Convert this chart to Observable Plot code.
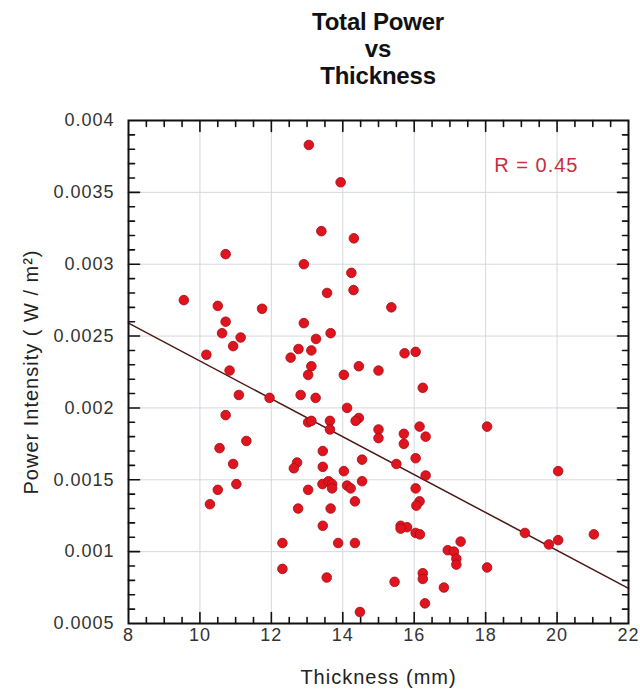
<!DOCTYPE html>
<html>
<head>
<meta charset="utf-8">
<script src="https://cdn.jsdelivr.net/npm/d3@7"></script>
<script src="https://cdn.jsdelivr.net/npm/@observablehq/plot@0.6"></script>
<style>
  html, body { margin: 0; padding: 0; background: #fff; }
  #title { position: relative; width: 640px; height: 100px; font-family: "Liberation Sans", Arial, Helvetica, sans-serif; }
  #title div { position: absolute; left: 128px; top: 8px; width: 500px; text-align: center; font-weight: bold; font-size: 24px; line-height: 27px; color: #111; letter-spacing: -0.2px; }
  #chart svg text { letter-spacing: 1px; }
</style>
</head>
<body>
<div id="title">
  <div>Total Power<br>vs<br>Thickness</div>
</div>
<div id="chart"></div>
<script>
// Data
const thickness = [13.05,13.94,13.40,14.31,10.72,12.91,14.24,14.30,13.56,9.55,
  10.50,11.74,15.36,10.72,12.91,10.62,13.66,11.14,13.25,10.93,
  12.76,13.12,15.73,16.04,10.18,12.54,13.12,14.45,15.00,10.83,
  13.03,14.03,16.24,11.09,11.95,12.82,13.24,14.12,10.72,14.45,
  14.36,13.03,13.12,13.64,13.64,15.00,15.00,16.15,18.04,15.71,
  15.71,16.32,11.30,10.55,13.44,16.04,14.54,10.93,15.50,12.72,
  12.63,13.44,14.03,20.03,16.32,14.54,13.43,13.60,13.70,13.70,
  11.02,14.12,14.22,13.03,10.50,16.04,14.34,16.15,16.06,10.28,
  12.75,13.66,13.44,15.62,15.80,15.62,16.04,16.16,19.10,21.03,
  17.30,20.03,19.77,12.31,13.87,14.34,16.94,17.11,17.18,17.18,
  18.04,12.31,16.24,16.24,13.55,15.45,16.83,16.30,14.48];
const power = [0.00383,0.00357,0.00323,0.00318,0.00307,0.00300,0.00294,0.00282,0.00280,0.00275,
  0.00271,0.00269,0.00270,0.00260,0.00259,0.00252,0.00252,0.00249,0.00248,0.00243,
  0.00241,0.00240,0.00238,0.00239,0.00237,0.00235,0.00229,0.00229,0.00226,0.00226,
  0.00223,0.00223,0.00214,0.00209,0.00207,0.00209,0.00207,0.00200,0.00195,0.00193,
  0.00191,0.00190,0.00191,0.00191,0.00185,0.00185,0.00179,0.00187,0.00187,0.00182,
  0.00175,0.00180,0.00177,0.00172,0.00170,0.00165,0.00164,0.00161,0.00161,0.00162,
  0.00158,0.00159,0.00156,0.00156,0.00153,0.00149,0.00147,0.00149,0.00147,0.00144,
  0.00147,0.00146,0.00144,0.00143,0.00143,0.00144,0.00135,0.00135,0.00132,0.00133,
  0.00130,0.00130,0.00118,0.00118,0.00117,0.00116,0.00113,0.00112,0.00113,0.00112,
  0.00107,0.00108,0.00105,0.00106,0.00106,0.00106,0.00101,0.00100,0.00095,0.00091,
  0.00089,0.00088,0.00085,0.00081,0.00082,0.00079,0.00075,0.00064,0.00058];

// Fitted line endpoints
const fitThickness = [8, 22];
const fitPower = [0.00259, 0.000745];

const xTicks = [8, 10, 12, 14, 16, 18, 20, 22];
const yTicks = [0.0005, 0.001, 0.0015, 0.002, 0.0025, 0.003, 0.0035, 0.004];
const xTickLabels = ["8", "10", "12", "14", "16", "18", "20", "22"];
const yTickLabels = ["0.0005", "0.001", "0.0015", "0.002", "0.0025", "0.003", "0.0035", "0.004"];
const xLabel = "Thickness (mm)";
const yLabel = "Power Intensity ( W / m²)";
const rLabel = "R = 0.45";

const points = thickness.map((x, i) => ({x, y: power[i]}));
const fit = fitThickness.map((x, i) => ({x, y: fitPower[i]}));

const xMajorInner = xTicks.slice(1, -1);
const yMajorInner = yTicks.slice(1, -1);
const xMinor = d3.range(8.5, 22, 0.5).filter(v => Math.abs(v - Math.round(v / 2) * 2) > 1e-9);
const yMinor = d3.range(6, 40).map(k => k / 10000).filter(v => Math.abs(v * 2000 - Math.round(v * 2000)) > 1e-6);

const tickShape = {draw(ctx, l) { ctx.moveTo(0, 0); ctx.lineTo(0, -l); }};
const font = '"Liberation Sans", Arial, Helvetica, sans-serif';
const tk = {stroke: "#111", strokeWidth: 1.6, anchor: "start", shape: tickShape};

const chart = Plot.plot({
  width: 640,
  height: 598,
  marginTop: 20,
  marginBottom: 75,
  marginLeft: 128,
  marginRight: 12,
  style: {fontFamily: font, color: "#333", background: "#fff"},
  x: {domain: [8, 22]},
  y: {domain: [0.0005, 0.004]},
  marks: [
    Plot.gridX(xMajorInner, {stroke: "#d4d8de", strokeOpacity: 1, strokeWidth: 1}),
    Plot.gridY(yMajorInner, {stroke: "#d4d8de", strokeOpacity: 1, strokeWidth: 1}),
    Plot.axisX(xTicks, {tickSize: 0, tickPadding: 5, fontSize: 18, tickFormat: (d, i) => xTickLabels[i], label: null}),
    Plot.axisY(yTicks, {tickSize: 0, tickPadding: 14, fontSize: 18, tickFormat: (d, i) => yTickLabels[i], label: null}),
    // inward ticks, bottom / top
    Plot.vector(xMajorInner, {x: d => d, frameAnchor: "bottom", length: 11, rotate: 0, ...tk}),
    Plot.vector(xMinor, {x: d => d, frameAnchor: "bottom", length: 6, rotate: 0, ...tk}),
    Plot.vector(xMajorInner, {x: d => d, frameAnchor: "top", length: 11, rotate: 180, ...tk}),
    Plot.vector(xMinor, {x: d => d, frameAnchor: "top", length: 6, rotate: 180, ...tk}),
    // inward ticks, left / right
    Plot.vector(yMajorInner, {y: d => d, frameAnchor: "left", length: 11, rotate: 90, ...tk}),
    Plot.vector(yMinor, {y: d => d, frameAnchor: "left", length: 6, rotate: 90, ...tk}),
    Plot.vector(yMajorInner, {y: d => d, frameAnchor: "right", length: 11, rotate: -90, ...tk}),
    Plot.vector(yMinor, {y: d => d, frameAnchor: "right", length: 6, rotate: -90, ...tk}),
    Plot.line(fit, {x: "x", y: "y", stroke: "#4e1717", strokeWidth: 1.5}),
    Plot.dot(points, {x: "x", y: "y", r: 4.8, fill: "#e0141f", stroke: "#a10b12", strokeWidth: 0.8}),
    Plot.text([rLabel], {frameAnchor: "top-right", dx: -50, dy: 37, textAnchor: "end", fill: "#c4303c", fontSize: 20}),
    Plot.text([xLabel], {frameAnchor: "bottom", dy: 60, textAnchor: "middle", fill: "#222", fontSize: 20}),
    Plot.text([yLabel], {frameAnchor: "left", dx: -97, rotate: -90, textAnchor: "middle", fill: "#222", fontSize: 20}),
    Plot.frame({stroke: "#111", strokeWidth: 2})
  ]
});
document.getElementById("chart").appendChild(chart);
</script>
</body>
</html>
